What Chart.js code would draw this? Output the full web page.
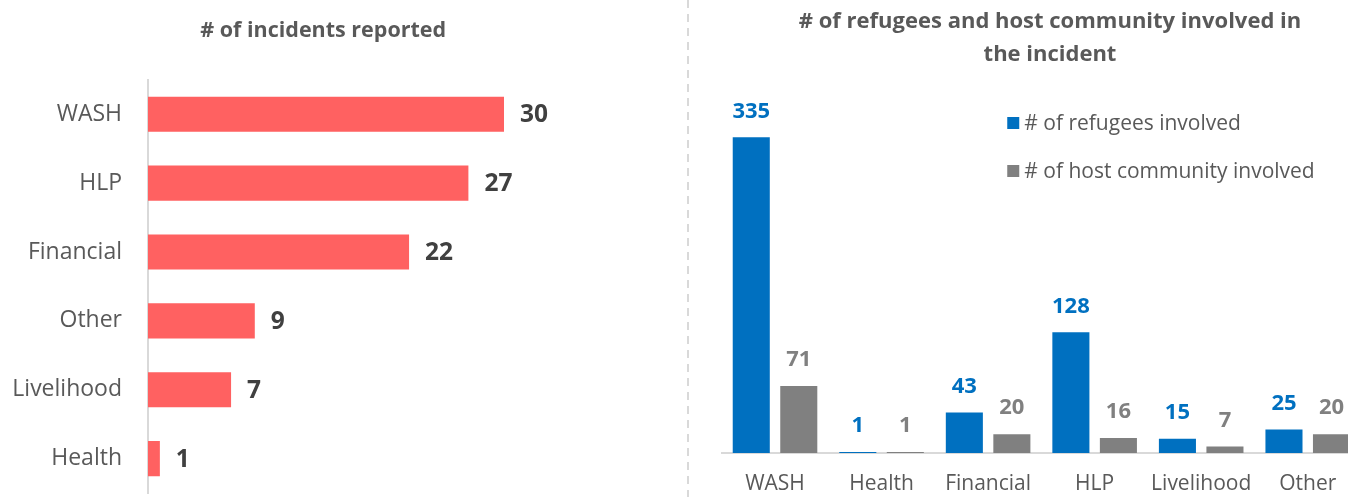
<!DOCTYPE html>
<html>
<head>
<meta charset="utf-8">
<script src="https://cdn.jsdelivr.net/npm/chart.js@4.4.1/dist/chart.umd.min.js"></script>
<style>
  html, body { margin: 0; padding: 0; background: #ffffff; }
  #wrap { position: relative; width: 1348px; height: 497px; overflow: hidden; }
  #incidentsChart { position: absolute; left: 0; top: 0; }
  #involvedChart { position: absolute; left: 690px; top: 0; }
  #divider {
    position: absolute; left: 687px; top: 0; width: 2px; height: 497px;
    background: repeating-linear-gradient(to bottom, #d9d9d9 0 8px, transparent 8px 14px);
  }
</style>
</head>
<body>
<div id="wrap">
  <canvas id="incidentsChart" width="688" height="497"></canvas>
  <div id="divider"></div>
  <canvas id="involvedChart" width="700" height="497"></canvas>
</div>
<script>
// Incidents by sector
const incidentCategories = ['WASH', 'HLP', 'Financial', 'Other', 'Livelihood', 'Health'];
const incidentCounts = [30, 27, 22, 9, 7, 1];

// People involved by sector
const involvedCategories = ['WASH', 'Health', 'Financial', 'HLP', 'Livelihood', 'Other'];
const refugeesInvolved = [335, 1, 43, 128, 15, 25];
const hostInvolved = [71, 1, 20, 16, 7, 20];

const FONT = '"Open Sans", Lato, sans-serif';
const TEXT_GREY = '#595959';

// Writes each bar's value next to it (right of horizontal bars, above vertical ones)
const valueLabels = {
  id: 'valueLabels',
  afterDatasetsDraw(chart, args, opts) {
    const ctx = chart.ctx;
    const horizontal = chart.options.indexAxis === 'y';
    ctx.save();
    ctx.font = 'bold ' + opts.size + 'px ' + FONT;
    chart.data.datasets.forEach((ds, i) => {
      const meta = chart.getDatasetMeta(i);
      ctx.fillStyle = ds.labelColor;
      meta.data.forEach((bar, j) => {
        const v = ds.data[j];
        ctx.textBaseline = 'middle';
        if (horizontal) {
          ctx.textAlign = 'left';
          ctx.fillText(String(v), bar.x + opts.offset, bar.y + 1);
        } else {
          ctx.textAlign = 'center';
          ctx.fillText(String(v), bar.x, bar.y - opts.offset);
        }
      });
    });
    ctx.restore();
  }
};

// Square-marker legend stacked inside the plot area
const sideLegend = {
  id: 'sideLegend',
  afterDraw(chart, args, opts) {
    const ctx = chart.ctx;
    const area = chart.chartArea;
    ctx.save();
    ctx.font = opts.size + 'px ' + FONT;
    ctx.textAlign = 'left';
    ctx.textBaseline = 'middle';
    chart.data.datasets.forEach((ds, i) => {
      const x = area.left + opts.x;
      const y = area.top + opts.y + i * opts.gap;
      ctx.fillStyle = ds.backgroundColor;
      ctx.fillRect(x, y - 6, 12, 12);
      ctx.fillStyle = TEXT_GREY;
      ctx.fillText(ds.label, x + 17, y + 1);
    });
    ctx.restore();
  }
};

new Chart(document.getElementById('incidentsChart'), {
  type: 'bar',
  data: {
    labels: incidentCategories,
    datasets: [{
      label: '# of incidents reported',
      data: incidentCounts,
      backgroundColor: '#FF6161',
      labelColor: '#404040',
      categoryPercentage: 1,
      barPercentage: 0.51
    }]
  },
  options: {
    indexAxis: 'y',
    responsive: false,
    animation: false,
    layout: { padding: { left: 0, right: 41.6, top: 0, bottom: 4 } },
    plugins: {
      legend: { display: false },
      tooltip: { enabled: false },
      title: {
        display: true,
        text: '# of incidents reported',
        color: TEXT_GREY,
        font: { family: FONT, size: 21.5, weight: 'bold', lineHeight: 1.2 },
        padding: { top: 18, bottom: 36 }
      },
      valueLabels: { size: 24.5, offset: 16 }
    },
    scales: {
      x: { display: false, min: 0, max: 42 },
      y: {
        grid: { display: false, drawTicks: false },
        border: { display: true, color: '#D9D9D9', width: 2 },
        ticks: { color: TEXT_GREY, font: { family: FONT, size: 23 }, padding: 26 },
        afterFit(scale) {
          scale.width = 148;
          scale.paddingTop = 0;
          scale.paddingBottom = 0;
        }
      }
    }
  },
  plugins: [valueLabels]
});

new Chart(document.getElementById('involvedChart'), {
  type: 'bar',
  data: {
    labels: involvedCategories,
    datasets: [
      {
        label: '# of refugees involved',
        data: refugeesInvolved,
        backgroundColor: '#0070C0',
        labelColor: '#0070C0',
        categoryPercentage: 0.892,
        barPercentage: 0.78
      },
      {
        label: '# of host community involved',
        data: hostInvolved,
        backgroundColor: '#808080',
        labelColor: '#808080',
        categoryPercentage: 0.892,
        barPercentage: 0.78
      }
    ]
  },
  options: {
    responsive: false,
    animation: false,
    layout: { padding: { left: 31.75, right: 11.75, top: 0, bottom: 0 } },
    plugins: {
      legend: { display: false },
      tooltip: { enabled: false },
      title: {
        display: true,
        text: ['# of refugees and host community involved in', 'the incident'],
        color: TEXT_GREY,
        font: { family: FONT, size: 22, weight: 'bold', lineHeight: 1.5 },
        padding: { top: 5, bottom: 5 }
      },
      valueLabels: { size: 22, offset: 26 },
      sideLegend: { size: 21, x: 285.5, y: 47, gap: 48 }
    },
    scales: {
      x: {
        grid: { display: false, drawTicks: false },
        border: { display: true, color: '#D9D9D9', width: 2 },
        ticks: { color: TEXT_GREY, font: { family: FONT, size: 21 }, padding: 18 },
        afterFit(scale) { scale.height = 44; }
      },
      y: { display: false, min: 0, max: 400 },
      yRight: {
        type: 'linear',
        position: 'right',
        display: true,
        grid: { display: false, drawTicks: false },
        border: { display: false },
        ticks: { display: false },
        afterFit(scale) { scale.width = 17.25; }
      }
    }
  },
  plugins: [valueLabels, sideLegend]
});
</script>
</body>
</html>
